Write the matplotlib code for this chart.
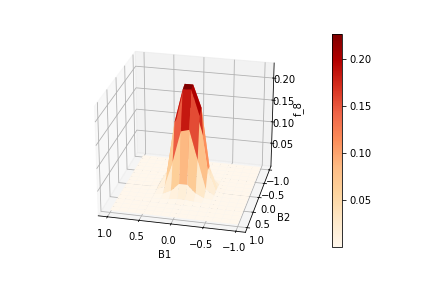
import matplotlib

matplotlib.use("Agg")

import matplotlib.pyplot as plt
import numpy as np

B1 = [-1.0, -0.867, -0.733, -0.6, -0.467, -0.333, -0.2, -0.067,
      0.067, 0.2, 0.333, 0.467, 0.6, 0.733, 0.867, 1.0]
B2 = [-1.0, -0.867, -0.733, -0.6, -0.467, -0.333, -0.2, -0.067,
      0.067, 0.2, 0.333, 0.467, 0.6, 0.733, 0.867, 1.0]

row_0 = [0.0002] * 16
row_1 = [0.0002] * 16
row_2 = [0.0002] * 16
row_3 = [0.0002, 0.0002, 0.0002, 0.0002, 0.0003, 0.0004, 0.0005, 0.0006,
         0.0006, 0.0005, 0.0004, 0.0003, 0.0002, 0.0002, 0.0002, 0.0002]
row_4 = [0.0002, 0.0002, 0.0002, 0.0003, 0.0005, 0.001, 0.002, 0.004,
         0.004, 0.002, 0.001, 0.0005, 0.0003, 0.0002, 0.0002, 0.0002]
row_5 = [0.0002, 0.0002, 0.0002, 0.0004, 0.001, 0.004, 0.02, 0.045,
         0.045, 0.02, 0.004, 0.001, 0.0004, 0.0002, 0.0002, 0.0002]
row_6 = [0.0002, 0.0002, 0.0002, 0.0005, 0.002, 0.02, 0.11, 0.17,
         0.17, 0.10, 0.015, 0.002, 0.0005, 0.0002, 0.0002, 0.0002]
row_7 = [0.0002, 0.0002, 0.0002, 0.0006, 0.004, 0.05, 0.18, 0.229,
         0.229, 0.15, 0.035, 0.004, 0.0006, 0.0002, 0.0002, 0.0002]
row_8 = [0.0002, 0.0002, 0.0002, 0.0006, 0.004, 0.05, 0.17, 0.226,
         0.224, 0.15, 0.03, 0.004, 0.0006, 0.0002, 0.0002, 0.0002]
row_9 = [0.0002, 0.0002, 0.0002, 0.0005, 0.002, 0.015, 0.08, 0.145,
         0.14, 0.07, 0.012, 0.002, 0.0005, 0.0002, 0.0002, 0.0002]
row_10 = [0.0002, 0.0002, 0.0002, 0.0004, 0.001, 0.003, 0.012, 0.03,
          0.03, 0.012, 0.003, 0.001, 0.0004, 0.0002, 0.0002, 0.0002]
row_11 = [0.0002, 0.0002, 0.0002, 0.0003, 0.0005, 0.001, 0.002, 0.004,
          0.004, 0.002, 0.001, 0.0005, 0.0003, 0.0002, 0.0002, 0.0002]
row_12 = row_3
row_13 = row_2
row_14 = row_1
row_15 = row_0
f_8 = [row_0, row_1, row_2, row_3, row_4, row_5, row_6, row_7,
       row_8, row_9, row_10, row_11, row_12, row_13, row_14, row_15]

axis_ticks = [-1.0, -0.5, 0.0, 0.5, 1.0]
z_ticks = [0.05, 0.10, 0.15, 0.20]

X, Y = np.meshgrid(B1, B2)
Z = np.array(f_8)

fig = plt.figure(figsize=(423 / 72, 282 / 72), dpi=72)
ax = fig.add_subplot(projection="3d")
ax.set_position([0.107, 0.09, 0.66, 0.82])
surf = ax.plot_surface(X, Y, Z, cmap="OrRd", rstride=1, cstride=1,
                       linewidth=0, antialiased=True)
ax.view_init(elev=25, azim=103)
ax.set_box_aspect((4, 4, 3.2))
ax.set_xticks(axis_ticks)
ax.set_yticks(axis_ticks)
ax.set_zticks(z_ticks)
ax.set_xlabel("B1", labelpad=0)
ax.set_ylabel("B2", labelpad=0)
ax.zaxis.set_rotate_label(False)
ax.set_zlabel("f_8", labelpad=-2, rotation=90)
ax.tick_params(labelsize=10, pad=0)

cax = fig.add_axes([332 / 423, 1 - 247 / 282, 10 / 423, 213 / 282])
fig.colorbar(surf, cax=cax, ticks=z_ticks)

fig.savefig("out.png", dpi=72)
